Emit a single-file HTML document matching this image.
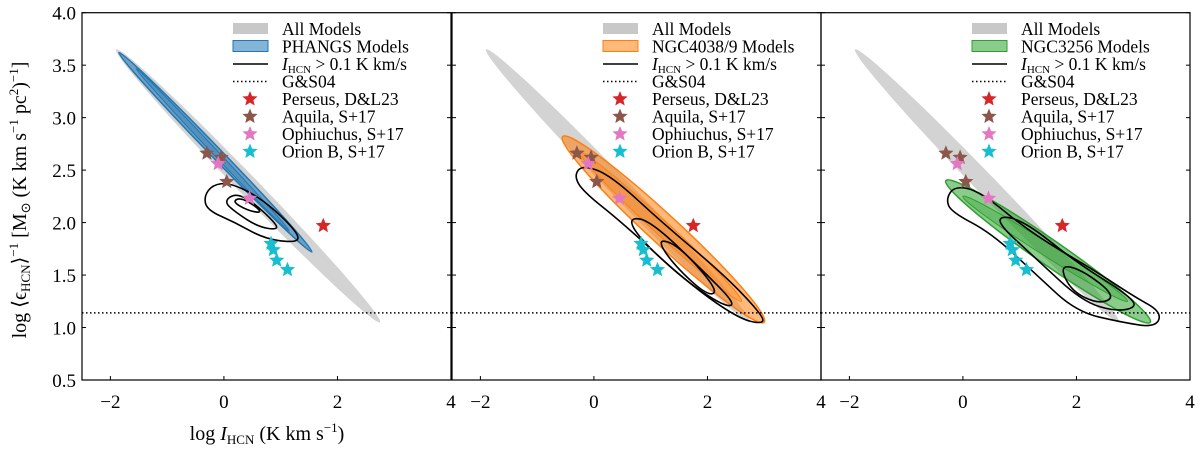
<!DOCTYPE html>
<html><head><meta charset="utf-8"><style>
body{margin:0;background:#fff}
svg{display:block;font-family:"Liberation Serif",serif}
</style></head><body>
<svg id="c" width="1200" height="451" xmlns="http://www.w3.org/2000/svg"></svg>
<script>
const xTicks=[-2,0,2,4];
const yTicks=[0.5,1.0,1.5,2.0,2.5,3.0,3.5,4.0];
const gsLevel=1.14;
const allModels=[[-1.9,3.65],[2.75,1.05]];
const perseus=[[1.75,1.97]];
const aquila=[[-0.3,2.66],[-0.05,2.62],[0.05,2.39]];
const ophiuchus=[[-0.1,2.56],[0.45,2.23]];
const orionB=[[0.83,1.8],[0.87,1.74],[0.93,1.64],[1.12,1.55]];
const subsetNames=["PHANGS Models","NGC4038/9 Models","NGC3256 Models"];
const subsetColors=["#1f77b4","#ff7f0e","#2ca02c"];
const subsetSpan=[[[-1.85,3.62],[1.55,1.72]],[[-0.55,2.82],[3.0,1.05]],[[-0.3,2.4],[3.3,1.05]]];
const subsetWidth=[0.1,0.28,0.24];
const contours=[
 [[[-0.35,2.25],[-0.2,2.36],[0.1,2.38],[0.6,2.25],[1.1,2.02],[1.35,1.85],[1.2,1.81],[0.7,1.85],[0.2,2.0],[-0.3,2.12]],
  [[0.0,2.2],[0.2,2.28],[0.5,2.2],[0.9,2.0],[0.95,1.93],[0.6,1.96],[0.2,2.1]],
  [[0.15,2.2],[0.3,2.24],[0.6,2.14],[0.65,2.09],[0.4,2.12]]],
 [[[-0.35,2.45],[-0.2,2.55],[0.3,2.45],[1.2,2.0],[2.3,1.5],[3.0,1.1],[2.95,1.03],[2.5,1.1],[1.6,1.45],[0.5,2.0],[-0.2,2.3]],
  [[0.6,2.05],[1.0,2.02],[2.0,1.5],[2.5,1.22],[2.3,1.2],[1.6,1.45],[0.8,1.85]],
  [[1.1,1.85],[1.5,1.78],[2.2,1.35],[2.0,1.3],[1.4,1.6]]],
 [[[-0.3,2.22],[-0.15,2.35],[0.3,2.3],[1.2,1.9],[2.3,1.55],[3.0,1.3],[3.5,1.15],[3.4,1.0],[2.8,1.05],[2.0,1.15],[1.3,1.5],[0.5,1.9],[-0.2,2.1]],
  [[0.5,2.05],[1.0,2.05],[2.0,1.62],[2.8,1.35],[3.1,1.2],[2.7,1.15],[2.1,1.25],[1.3,1.65]],
  [[1.7,1.6],[2.1,1.55],[2.7,1.3],[2.4,1.22],[1.9,1.35]]]];
const svg=document.getElementById('c');
const NS="http://www.w3.org/2000/svg";
function mk(t,a,p){const e=document.createElementNS(NS,t);for(const k in a)e.setAttribute(k,a[k]);(p||svg).appendChild(e);return e;}
const T=12.7,B=380,panelsX=[82,452,821];const W=369;
function sy(v){return B-(v-0.5)/3.5*(B-T);}
function sxf(x0){return v=>x0+(v+2.5)/6.5*W;}
function ellipse(g,sx,p1,p2,wData,attrs){
 const x1=sx(p1[0]),y1=sy(p1[1]),x2=sx(p2[0]),y2=sy(p2[1]);
 const cx=(x1+x2)/2,cy=(y1+y2)/2,L=Math.hypot(x2-x1,y2-y1)/2,ang=Math.atan2(y2-y1,x2-x1)*180/Math.PI;
 const r=wData*(B-T)/3.5/2;
 const e=mk('ellipse',Object.assign({cx:cx,cy:cy,rx:L,ry:r,transform:`rotate(${ang} ${cx} ${cy})`},attrs),g);return e;}
function closedPath(sx,pts){let d='';const n=pts.length;const P=pts.map(p=>[sx(p[0]),sy(p[1])]);
 d='M'+((P[n-1][0]+P[0][0])/2)+','+((P[n-1][1]+P[0][1])/2);
 for(let i=0;i<n;i++){const a=P[i],b=P[(i+1)%n];d+=` Q${a[0]},${a[1]} ${(a[0]+b[0])/2},${(a[1]+b[1])/2}`;}return d+'Z';}
function star(g,x,y,r,fill,name){let d='';for(let i=0;i<10;i++){const rr=i%2?r*0.45:r;const a=-Math.PI/2+i*Math.PI/5;d+=(i?'L':'M')+(x+rr*Math.cos(a)).toFixed(1)+','+(y+rr*Math.sin(a)).toFixed(1);}
 const s=mk('path',{d:d+'Z',fill:fill},g);}
const starSets=[[perseus,'#d62728','Perseus, D&L23','perseus-star'],[aquila,'#8c564b','Aquila, S+17','aquila-star'],[ophiuchus,'#e377c2','Ophiuchus, S+17','ophiuchus-star'],[orionB,'#17becf','Orion B, S+17','orion-b-star']];
panelsX.forEach((x0,pi)=>{
 const sx=sxf(x0);
 const g=mk('g',{});
 const cp=mk('clipPath',{id:'cp'+pi},g);mk('rect',{x:x0,y:T,width:W,height:B-T},cp);
 const pg=mk('g',{'clip-path':`url(#cp${pi})`},g);
 const a=ellipse(pg,sx,allModels[0],allModels[1],0.19,{fill:'#d3d3d3'});
 const s=ellipse(pg,sx,subsetSpan[pi][0],subsetSpan[pi][1],subsetWidth[pi],{fill:subsetColors[pi],'fill-opacity':0.55,stroke:subsetColors[pi],'stroke-width':1.5});
 
 ellipse(pg,sx,[subsetSpan[pi][0][0]+0.3,subsetSpan[pi][0][1]-0.15],[subsetSpan[pi][1][0]-0.4,subsetSpan[pi][1][1]+0.2],subsetWidth[pi]*0.5,{fill:subsetColors[pi],'fill-opacity':0.35,stroke:subsetColors[pi],'stroke-width':1});
 contours[pi].forEach((c,ci)=>{const p=mk('path',{d:closedPath(sx,c),fill:'none',stroke:'#000','stroke-width':1.6},pg);});
 const gl=mk('line',{x1:x0,x2:x0+W,y1:sy(gsLevel),y2:sy(gsLevel),stroke:'#000','stroke-width':1.5,'stroke-dasharray':'1.5,2.5'},pg);
 starSets.forEach(ss=>ss[0].forEach(p=>star(pg,sx(p[0]),sy(p[1]),8,ss[1],ss[3])));
 mk('rect',{x:x0,y:T,width:W,height:B-T,fill:'none',stroke:'#000','stroke-width':1.2},g);
 xTicks.forEach(t=>{const X=sx(t);mk('line',{x1:X,x2:X,y1:B,y2:B-4,stroke:'#000'},g);
  const tx=mk('text',{x:X,y:B+28,'text-anchor':'middle','font-size':19},g);tx.textContent=t<0?'\u2212'+(-t):t;});
 yTicks.forEach(t=>{const Y=sy(t);mk('line',{x1:x0,x2:x0+4,y1:Y,y2:Y,stroke:'#000'},g);mk('line',{x1:x0+W,x2:x0+W-4,y1:Y,y2:Y,stroke:'#000'},g);
  if(pi===0){const tx=mk('text',{x:x0-6,y:Y+7,'text-anchor':'end','font-size':19},g);tx.textContent=t.toFixed(1);}});
 const lg=mk('g',{},g);
 const lx=x0+151,ly=29,dy=17.5;
 const labels=['All Models',subsetNames[pi],null,'G&S04'].concat(starSets.map(s=>s[2]));
 mk('rect',{x:lx,y:ly-6,width:35,height:11,fill:'#c8c8c8'},lg);
 mk('rect',{x:lx,y:ly+dy-6,width:35,height:11,fill:subsetColors[pi],'fill-opacity':0.55,stroke:subsetColors[pi]},lg);
 mk('line',{x1:lx,x2:lx+35,y1:ly+2*dy,y2:ly+2*dy,stroke:'#000','stroke-width':1.6},lg);
 mk('line',{x1:lx,x2:lx+35,y1:ly+3*dy,y2:ly+3*dy,stroke:'#000','stroke-width':1.5,'stroke-dasharray':'1.5,2.5'},lg);
 starSets.forEach((ss,i)=>star(lg,lx+17,ly+(4+i)*dy,8,ss[1],'legend-star'));
 labels.forEach((l,i)=>{const tx=mk('text',{x:lx+49,y:ly+i*dy+6,'font-size':17.5},lg);
  if(l===null){tx.innerHTML='<tspan font-style="italic">I</tspan><tspan font-size="11" dy="3">HCN</tspan><tspan dy="-3"> &gt; 0.1 K km/s</tspan>';}else tx.textContent=l;
  });
});
const xl=mk('text',{x:267,y:440,'text-anchor':'middle','font-size':20});
xl.innerHTML='log <tspan font-style="italic">I</tspan><tspan font-size="13" dy="4">HCN</tspan><tspan dy="-4"> (K km s</tspan><tspan font-size="13" dy="-8">\u22121</tspan><tspan dy="8">)</tspan>';

const yl=mk('text',{x:0,y:0,'text-anchor':'middle','font-size':20,transform:'translate(26,200) rotate(-90)'});
yl.innerHTML='log \u27E8\u03F5<tspan font-size="13" dy="4">HCN</tspan><tspan dy="-4">\u27E9</tspan><tspan font-size="13" dy="-8">\u22121</tspan><tspan dy="8"> [M</tspan><tspan font-size="13" dy="4">\u2299</tspan><tspan dy="-4"> (K km s</tspan><tspan font-size="13" dy="-8">\u22121</tspan><tspan dy="8"> pc</tspan><tspan font-size="13" dy="-8">2</tspan><tspan dy="8">)</tspan><tspan font-size="13" dy="-8">\u22121</tspan><tspan dy="8">]</tspan>';

</script>
</body></html>
